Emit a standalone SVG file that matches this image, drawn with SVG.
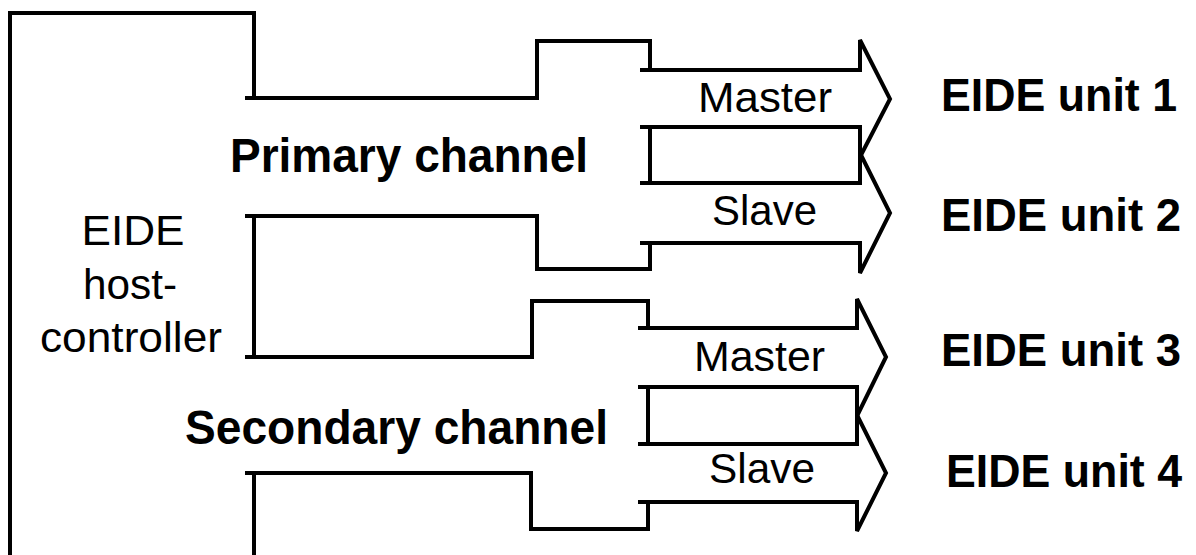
<svg xmlns="http://www.w3.org/2000/svg" width="1196" height="555" viewBox="0 0 1196 555">
<style>
  .ln { fill: none; stroke: #000; stroke-width: 4; stroke-linejoin: miter; stroke-linecap: butt; }
  .t { font-family: "Liberation Sans", Arial, sans-serif; font-size: 42px; fill: #000; }
  .b { font-family: "Liberation Sans", Arial, sans-serif; font-weight: bold; fill: #000; }
  .ch { font-size: 48px; }
  .un { font-size: 46px; }
</style>
<rect width="1196" height="555" fill="#fff"/>
<g id="host-controller">
  <path class="ln" d="M10,555 V13 H254 V98"/>
  <text class="t" x="133" y="245" text-anchor="middle" textLength="103" lengthAdjust="spacingAndGlyphs">EIDE</text>
  <text class="t" x="130" y="299" text-anchor="middle" textLength="94" lengthAdjust="spacingAndGlyphs">host-</text>
  <text class="t" x="131" y="352" text-anchor="middle" textLength="182" lengthAdjust="spacingAndGlyphs">controller</text>
</g>
<g id="primary-channel">
  <text class="b ch" x="230" y="172" textLength="358" lengthAdjust="spacingAndGlyphs">Primary channel</text>
</g>
<g id="secondary-channel">
  <text class="b ch" x="185" y="444" textLength="423" lengthAdjust="spacingAndGlyphs">Secondary channel</text>
</g>
<g id="connectors">
  <path class="ln" d="M245,98 H537 V41 H650 V70"/>
  <path class="ln" d="M245,216 H537 V269 H650 V243"/>
  <path class="ln" d="M254,216 V357"/>
  <path class="ln" d="M640,70 H860 V40 L890,99 L860,157 V127 H640"/>
  <path class="ln" d="M650,127 V183"/>
  <path class="ln" d="M640,183 H860 V153 L890,213 L860,273 V243 H640"/>
  <path class="ln" d="M245,357 H532 V301 H648 V328"/>
  <path class="ln" d="M245,473 H531 V529 H648 V502"/>
  <path class="ln" d="M254,473 V555"/>
  <path class="ln" d="M638,328 H857 V299 L886,357 L857,416 V387 H638"/>
  <path class="ln" d="M648,387 V444"/>
  <path class="ln" d="M638,444 H857 V415 L886,473 L857,531 V502 H638"/>
  <text class="t" x="698" y="112" textLength="134" lengthAdjust="spacingAndGlyphs">Master</text>
  <text class="t" x="712" y="225" textLength="105" lengthAdjust="spacingAndGlyphs">Slave</text>
  <text class="t" x="694" y="371" textLength="131" lengthAdjust="spacingAndGlyphs">Master</text>
  <text class="t" x="709" y="483" textLength="106" lengthAdjust="spacingAndGlyphs">Slave</text>
</g>
<g id="eide-unit-1">
  <text class="b un" x="941" y="111" textLength="236" lengthAdjust="spacingAndGlyphs">EIDE unit 1</text>
</g>
<g id="eide-unit-2">
  <text class="b un" x="941" y="231" textLength="240" lengthAdjust="spacingAndGlyphs">EIDE unit 2</text>
</g>
<g id="eide-unit-3">
  <text class="b un" x="941" y="366" textLength="240" lengthAdjust="spacingAndGlyphs">EIDE unit 3</text>
</g>
<g id="eide-unit-4">
  <text class="b un" x="946" y="487" textLength="236" lengthAdjust="spacingAndGlyphs">EIDE unit 4</text>
</g>
</svg>
